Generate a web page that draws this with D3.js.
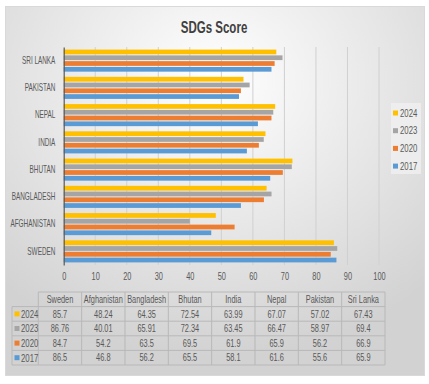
<!DOCTYPE html>
<html><head><meta charset="utf-8">
<script src="https://cdn.jsdelivr.net/npm/d3@7/dist/d3.min.js"></script>
<style>
html,body{margin:0;padding:0;background:#fff;}
svg{display:block;}
text{font-family:"Liberation Sans",Arial,sans-serif;}
</style></head>
<body><svg id="c" width="429" height="384"></svg>
<script>
const countries = ["Sweden","Afghanistan","Bangladesh","Bhutan","India","Nepal","Pakistan","Sri Lanka"];
const years = ["2024","2023","2020","2017"];
const v2024 = [85.7,48.24,64.35,72.54,63.99,67.07,57.02,67.43];
const v2023 = [86.76,40.01,65.91,72.34,63.45,66.47,58.97,69.4];
const v2020 = [84.7,54.2,63.5,69.5,61.9,65.9,56.2,66.9];
const v2017 = [86.5,46.8,56.2,65.5,58.1,61.6,55.6,65.9];
const xTicks = [0,10,20,30,40,50,60,70,80,90,100];
const colors = ["#FFC000","#A5A5A5","#ED7D31","#5B9BD5"];
const seriesVals = [v2024,v2023,v2020,v2017];

const svg = d3.select("#c");
const defs = svg.append("defs");
const rg = defs.append("radialGradient").attr("id","bg")
  .attr("cx","50%").attr("cy","20%").attr("r","75%");
rg.append("stop").attr("offset","0%").attr("stop-color","#ffffff");
rg.append("stop").attr("offset","100%").attr("stop-color","#d2d2d2");

svg.append("rect").attr("x",5.5).attr("y",6.5).attr("width",419).attr("height",369)
  .attr("fill","url(#bg)").attr("stroke","#d9d9d9");

const TXT = "#595959";
function ntext(parent, x, y, str, size, anchor, sx, opts) {
  const t = parent.append("text")
    .attr("transform", `translate(${x},${y}) scale(${sx},1)`)
    .attr("text-anchor", anchor).attr("font-size", size).attr("fill", TXT).text(str);
  if (opts && opts.bold) t.attr("font-weight", "bold").attr("fill", "#404040");
  return t;
}

ntext(svg, 214, 32.5, "SDGs Score", 16, "middle", 0.72, {bold:true});

const x = d3.scaleLinear().domain([0,100]).range([63.7,379]);
const catOrder = countries.slice().reverse();
const y = d3.scaleBand().domain(catOrder).range([47,265]).paddingInner(0.19).paddingOuter(0.095);
const ySub = d3.scaleBand().domain(years).range([0,y.bandwidth()]).paddingInner(0.18);

// gridlines
svg.append("g").selectAll("line").data(xTicks.slice(1)).join("line")
  .attr("x1",d=>x(d)).attr("x2",d=>x(d)).attr("y1",47).attr("y2",265)
  .attr("stroke","#d0d0d0").attr("stroke-width",1);

// bars
const g = svg.append("g");
countries.forEach((c,i)=>{
  years.forEach((yr,j)=>{
    g.append("rect").attr("x",x(0)).attr("y",y(c)+ySub(yr))
      .attr("width",x(seriesVals[j][i])-x(0)).attr("height",ySub.bandwidth())
      .attr("fill",colors[j]);
  });
});

// y axis
const yAxis = d3.axisLeft(y).tickSize(0).tickPadding(13).tickFormat(d=>d.toUpperCase());
const ya = svg.append("g").attr("transform",`translate(${x(0)},0)`).call(yAxis);
ya.select(".domain").attr("stroke","#595959").attr("stroke-width",1.2);
ya.selectAll("text").attr("font-size",10).attr("fill",TXT).attr("font-family","Liberation Sans, Arial, sans-serif")
  .attr("transform","scale(0.64,1)");

// x axis labels
const xAxis = d3.axisBottom(x).tickValues(xTicks).tickSize(0).tickPadding(8);
const xa = svg.append("g").attr("transform","translate(0,265)").call(xAxis);
xa.select(".domain").remove();
xa.selectAll("text").attr("font-size",10).attr("fill",TXT).attr("font-family","Liberation Sans, Arial, sans-serif")
  .attr("transform","scale(0.74,1)");

// legend
const lg = svg.append("g");
lg.append("rect").attr("x",391).attr("y",103).attr("width",30).attr("height",71)
  .attr("fill","#f2f2f2").attr("opacity",0.7);
years.forEach((yr,j)=>{
  const cy = 113 + j*17.7;
  lg.append("rect").attr("x",393).attr("y",cy-2.5).attr("width",5).attr("height",5).attr("fill",colors[j]);
  ntext(lg, 400, cy+3.5, yr, 10.5, "start", 0.74);
});

// data table
const colX = d3.scaleBand().domain(countries).range([38.3,385]);
const rowY = d3.scaleBand().domain(["head"].concat(years)).range([292,365]);
const tg = svg.append("g");
const lineC = "#b8b8b8";
tg.append("line").attr("x1",38.3).attr("x2",385).attr("y1",rowY("head")).attr("y2",rowY("head")).attr("stroke",lineC);
years.forEach(yr=>{
  tg.append("line").attr("x1",12).attr("x2",385).attr("y1",rowY(yr)).attr("y2",rowY(yr)).attr("stroke",lineC);
});
tg.append("line").attr("x1",12).attr("x2",385).attr("y1",365).attr("y2",365).attr("stroke",lineC);
tg.append("line").attr("x1",12).attr("x2",12).attr("y1",rowY(years[0])).attr("y2",365).attr("stroke",lineC);
countries.forEach(c=>{
  tg.append("line").attr("x1",colX(c)).attr("x2",colX(c)).attr("y1",292).attr("y2",365).attr("stroke",lineC);
});
tg.append("line").attr("x1",385).attr("x2",385).attr("y1",292).attr("y2",365).attr("stroke",lineC);
countries.forEach(c=>{
  ntext(tg, colX(c)+colX.bandwidth()/2, rowY("head")+rowY.bandwidth()/2+3.6, c, 10, "middle", 0.74);
});
years.forEach((yr,j)=>{
  const cy = rowY(yr)+rowY.bandwidth()/2;
  tg.append("rect").attr("x",14.5).attr("y",cy-2.5).attr("width",5).attr("height",5).attr("fill",colors[j]);
  ntext(tg, 21, cy+3.8, yr, 10.5, "start", 0.74);
  countries.forEach((c,i)=>{
    ntext(tg, colX(c)+colX.bandwidth()/2, cy+3.6, seriesVals[j][i], 10, "middle", 0.74);
  });
});
</script></body></html>
